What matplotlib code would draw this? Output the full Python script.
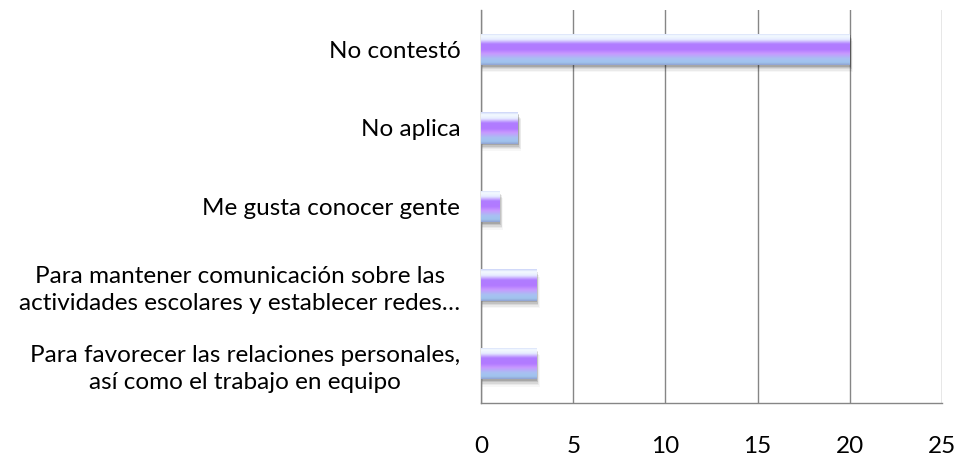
import numpy as np
import matplotlib.pyplot as plt
from matplotlib.colors import LinearSegmentedColormap
from matplotlib.patches import Rectangle

plt.rcParams.update({'font.family': ['Lato', 'DejaVu Sans'], 'font.size': 17.5})

categories = [
    'Para favorecer las relaciones personales,\nasí como el trabajo en equipo',
    'Para mantener comunicación sobre las\nactividades escolares y establecer redes…',
    'Me gusta conocer gente',
    'No aplica',
    'No contestó',
]
values = [3, 3, 1, 2, 20]
x_ticks = [0, 5, 10, 15, 20, 25]

# vertical gradient, top of bar first
bar_cmap = LinearSegmentedColormap.from_list('glass', [
    (0.00, '#c8d0f8'),
    (0.08, '#f4fbff'),
    (0.20, '#e6ecff'),
    (0.34, '#b07cff'),
    (0.52, '#b27aff'),
    (0.64, '#c898ff'),
    (0.80, '#a8c0f2'),
    (0.92, '#a0c4ee'),
    (1.00, '#8fa0d0'),
])

fig = plt.figure(figsize=(9.68, 4.58), dpi=100)
ax = fig.add_axes([0.497, 0.120, 0.476, 0.858])

bar_h = 0.40
y = np.arange(len(categories))

# soft shadow under each bar
for yi, v in zip(y, values):
    for k, a in enumerate([0.14, 0.10, 0.07, 0.05, 0.03]):
        off = 0.02 + k * 0.018
        ax.add_patch(Rectangle((0, yi - bar_h / 2 - off), v + 0.05 + k * 0.03, bar_h,
                               facecolor='black', alpha=a, linewidth=0, zorder=2))

bars = ax.barh(y, values, height=bar_h, color='none', edgecolor='none', zorder=3)
grad = np.linspace(1, 0, 256).reshape(-1, 1)
for b in bars:
    x0, y0 = b.get_x(), b.get_y()
    w, h = b.get_width(), b.get_height()
    im = ax.imshow(grad, cmap=bar_cmap, aspect='auto', interpolation='bicubic',
                   extent=(x0, x0 + w, y0, y0 + h), origin='lower', zorder=4)
    im.set_clip_path(b)

ax.set_xlim(0, 25)
ax.set_ylim(-0.5, len(categories) - 0.5)
ax.set_xticks(x_ticks)
ax.set_yticks(y)
ax.set_yticklabels(categories, ha='right', multialignment='center', linespacing=1.35)
ax.tick_params(axis='y', length=0, pad=15)
ax.tick_params(axis='x', length=0, pad=24)
ax.grid(axis='x', color='#868686', linewidth=1.0, zorder=0)
ax.set_axisbelow(True)
for s in ['top', 'right']:
    ax.spines[s].set_visible(False)
for s in ['left', 'bottom']:
    ax.spines[s].set_color('#868686')
    ax.spines[s].set_linewidth(1.0)

fig.savefig('out.png', dpi=100)
